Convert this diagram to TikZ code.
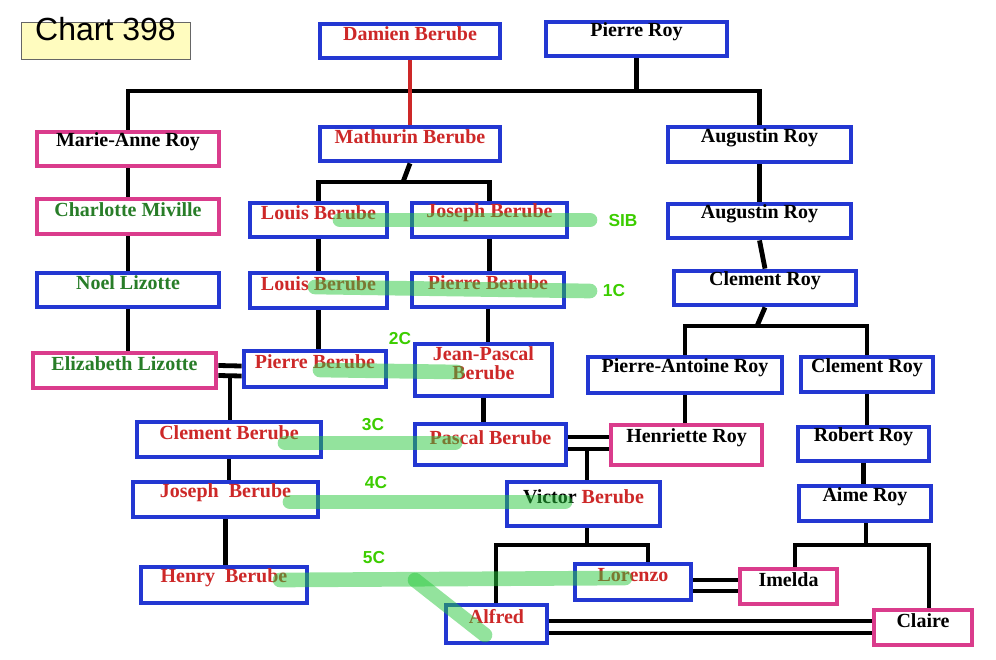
\documentclass[tikz,border=0pt]{standalone}
\usepackage{fontspec}
\setmainfont{Liberation Serif}
\setsansfont{Liberation Sans}
\usetikzlibrary{fit}
\definecolor{bblue}{RGB}{35,55,210}
\definecolor{bpink}{RGB}{218,60,140}
\definecolor{tred}{RGB}{205,40,40}
\definecolor{tgreen}{RGB}{40,125,40}
\definecolor{hgreen}{RGB}{40,200,60}
\definecolor{lgreen}{RGB}{60,205,0}
\tikzset{
  bx/.style={draw=bblue,line width=3.6pt,inner sep=0pt,fill=white,font=\fontsize{15}{14}\selectfont\bfseries,align=center},
  pk/.style={bx,draw=bpink},
  rd/.style={text=tred},
  gr/.style={text=tgreen},
  ln/.style={line width=3.6pt,black},
  hl/.style={line width=11pt,hgreen,opacity=0.5,line cap=round},
  lab/.style={text=lgreen,font=\sffamily\bfseries\fontsize{13}{13}\selectfont}
}
\begin{document}
\begin{tikzpicture}[x=0.75pt,y=-0.75pt]
\useasboundingbox (0,0) rectangle (996,660);
\node[draw=black!60,fill=yellow!25,line width=0.6pt,inner sep=0pt,fit={(21,22) (190,59)},font=\sffamily\fontsize{24}{24}\selectfont] (chart) {Chart 398};
% boxes
\node[bx,rd,fit={(320,24) (500,58)}] (damien) {Damien Berube};
\node[bx,fit={(546,22) (727,56)}] (proy) {Pierre Roy};
\node[pk,fit={(37,132) (219,166)}] (marie) {Marie-Anne Roy};
\node[bx,rd,fit={(320,127) (500,161)}] (mathurin) {Mathurin Berube};
\node[bx,fit={(668,127) (851,162)}] (aug1) {Augustin Roy};
\node[pk,gr,fit={(37,199) (219,234)}] (charlotte) {Charlotte Miville};
\node[bx,rd,fit={(250,203) (387,237)}] (louis1) {Louis Berube};
\node[bx,rd,fit={(412,203) (567,237)}] (joseph1) {Joseph Berube};
\node[bx,fit={(668,204) (851,238)}] (aug2) {Augustin Roy};
\node[bx,gr,fit={(37,273) (219,307)}] (noel) {Noel Lizotte};
\node[bx,rd,fit={(250,273) (387,308)}] (louis2) {Louis Berube};
\node[bx,rd,fit={(412,273) (564,307)}] (pierre1) {Pierre Berube};
\node[bx,fit={(674,271) (856,305)}] (clroy1) {Clement Roy};
\node[pk,gr,fit={(33,353) (216,388)}] (eliz) {Elizabeth Lizotte};
\node[bx,rd,fit={(244,351) (386,387)}] (pierre2) {Pierre Berube};
\node[bx,rd,fit={(415,344) (552,396)}] (jp) {Jean-Pascal\\Berube};
\node[bx,fit={(588,357) (782,393)}] (pa) {Pierre-Antoine Roy};
\node[bx,fit={(801,357) (933,392)}] (clroy2) {Clement Roy};
\node[bx,rd,fit={(137,422) (321,457)}] (clb) {Clement Berube};
\node[bx,rd,fit={(415,424) (566,465)}] (pascal) {Pascal Berube};
\node[pk,fit={(611,425) (762,465)}] (henr) {Henriette Roy};
\node[bx,fit={(798,427) (929,461)}] (robert) {Robert Roy};
\node[bx,rd,fit={(133,482) (318,517)}] (joseph2) {Joseph\ \ Berube};
\node[bx,rd,fit={(507,482) (660,526)}] (victor) {\textcolor{black}{Victor} Berube};
\node[bx,fit={(799,486) (931,521)}] (aime) {Aime Roy};
\node[bx,rd,fit={(141,567) (307,603)}] (henry) {Henry\ \ Berube};
\node[bx,rd,fit={(575,564) (691,600)}] (lorenzo) {Lorenzo};
\node[pk,fit={(740,569) (837,604)}] (imelda) {Imelda};
\node[bx,rd,fit={(446,605) (547,643)}] (alfred) {Alfred};
\node[pk,fit={(874,610) (972,645)}] (claire) {Claire};
% junctions
\coordinate (j1) at (636,91);
\coordinate (j2) at (403,182);
\coordinate (j3) at (757,326);
\coordinate (j4) at (230,376);
\coordinate (j5) at (587,449);
\coordinate (j6) at (587,545);
\coordinate (j7) at (866,545);
\begin{scope}[on background layer/.try]
\end{scope}
% lines
\draw[ln] (proy.south) -- (proy.south |- j1);
\draw[ln] (marie.north) |- (j1) -| (aug1.north);
\draw[ln,tred] (damien.south) -- (mathurin.north);
\draw[ln] (mathurin.south) -- (j2);
\draw[ln] (louis1.north) |- (j2) -| (joseph1.north);
\draw[ln] (aug1.south) -- (aug2.north);
\draw[ln] (aug2.south) -- (clroy1.north);
\draw[ln] (clroy1.south) -- (j3);
\draw[ln] (pa.north) |- (j3) -| (clroy2.north);
\draw[ln] (marie.south) -- (charlotte.north);
\draw[ln] (charlotte.south) -- (noel.north);
\draw[ln] (noel.south) -- (noel.south |- eliz.north);
\draw[ln] (louis1.south) -- (louis2.north);
\draw[ln] (louis2.south) -- (louis2.south |- pierre2.north);
\draw[ln] (joseph1.south) -- (joseph1.south |- pierre1.north);
\draw[ln] (pierre1.south) -- (pierre1.south |- jp.north);
\draw[ln] (jp.south) -- (jp.south |- pascal.north);
\draw[ln] ([shift={(0,-5)}]eliz.east) -- ([shift={(0,-3)}]pierre2.west);
\draw[ln] ([shift={(0,5)}]eliz.east) -- ([shift={(0,7)}]pierre2.west);
\draw[ln] (j4) -- (j4 |- clb.north);
\draw[ln] (clb.south) -- (clb.south |- joseph2.north);
\draw[ln] (joseph2.south) -- (joseph2.south |- henry.north);
\draw[ln] ([shift={(0,-7.5)}]pascal.east) -- ([shift={(0,-8)}]henr.west);
\draw[ln] ([shift={(0,4.5)}]pascal.east) -- ([shift={(0,4)}]henr.west);
\draw[ln] (pa.south) -- (pa.south |- henr.north);
\draw[ln] (j5) -- (j5 |- victor.north);
\draw[ln] (clroy2.south) -- (clroy2.south |- robert.north);
\draw[ln] (robert.south) -- (robert.south |- aime.north);
\draw[ln] (victor.south -| j6) -- (j6);
\draw[ln] (alfred.north -| 496,0) |- (j6) -| (lorenzo.north -| 648,0);
\draw[ln] (aime.south -| j7) -- (j7);
\draw[ln] (imelda.north -| 795,0) |- (j7) -| (claire.north -| 929,0);
\draw[ln] ([shift={(0,-2)}]lorenzo.east) -- ([shift={(0,-6.5)}]imelda.west);
\draw[ln] ([shift={(0,9)}]lorenzo.east) -- ([shift={(0,4.5)}]imelda.west);
\draw[ln] ([shift={(0,-3)}]alfred.east) -- ([shift={(0,-6.5)}]claire.west);
\draw[ln] ([shift={(0,9)}]alfred.east) -- ([shift={(0,5.5)}]claire.west);
% highlights
\coordinate (s1) at (340,220); \coordinate (s2) at (590,220);
\coordinate (c1a) at (315,287); \coordinate (c1b) at (590,291);
\coordinate (c2a) at (320,370); \coordinate (c2b) at (457,372);
\coordinate (c3a) at (285,443); \coordinate (c3b) at (455,443);
\coordinate (c4a) at (290,502); \coordinate (c4b) at (565,502);
\coordinate (c5a) at (280,580); \coordinate (c5b) at (625,578);
\coordinate (c5c) at (415,580); \coordinate (c5d) at (485,635);
\draw[hl] (s1) -- (s2);
\draw[hl] (c1a) -- (c1b);
\draw[hl] (c2a) -- (c2b);
\draw[hl] (c3a) -- (c3b);
\draw[hl] (c4a) -- (c4b);
\draw[hl] (c5a) -- (c5b);
\draw[hl] (c5c) -- (c5d);
\node[lab] (lsib) at (623,221) {SIB};
\node[lab] (l1c) at (614,291) {1C};
\node[lab] (l2c) at (400,339) {2C};
\node[lab] (l3c) at (373,425) {3C};
\node[lab] (l4c) at (376,483) {4C};
\node[lab] (l5c) at (374,558) {5C};
\end{tikzpicture}
\end{document}
